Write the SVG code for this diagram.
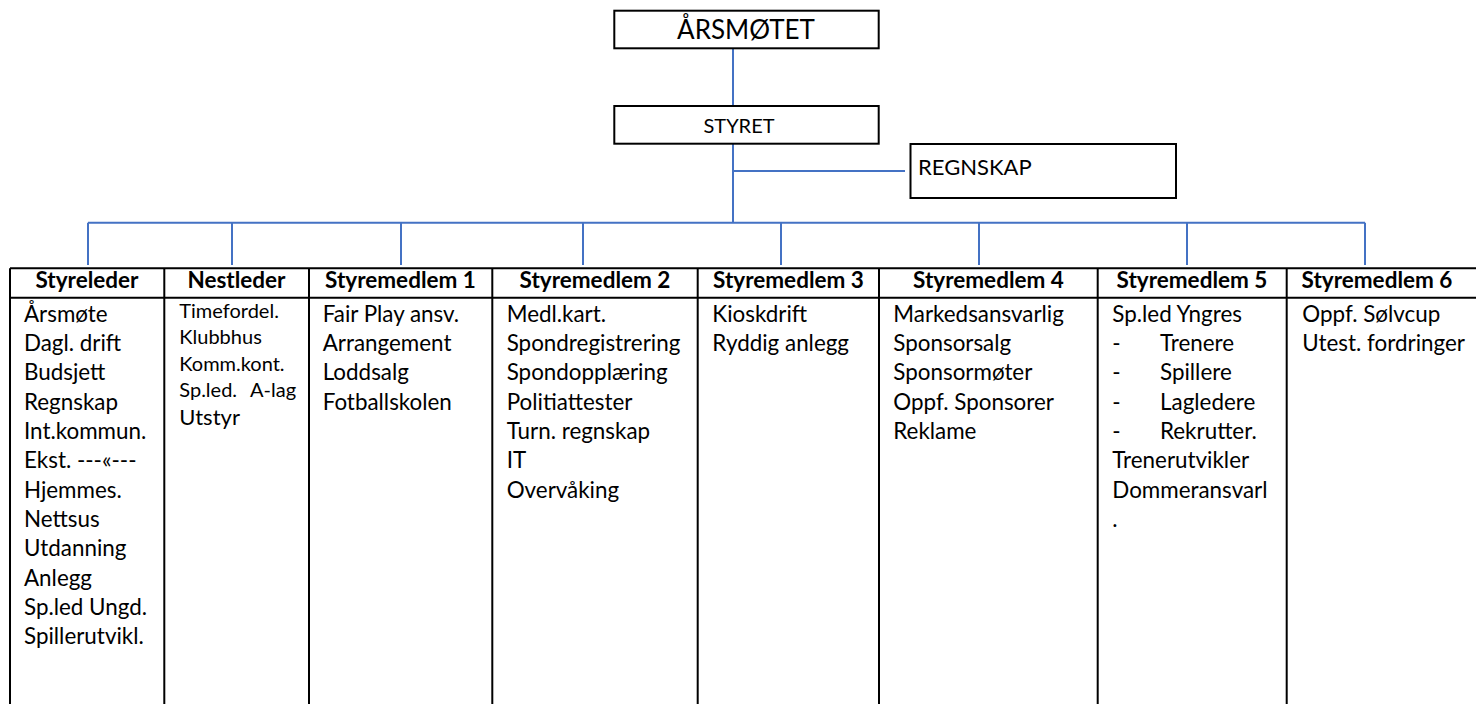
<svg xmlns="http://www.w3.org/2000/svg" width="1476" height="704" viewBox="0 0 1476 704">
<style>
.box{fill:#fff;stroke:#000;stroke-width:2}
.conn{stroke:#4472C4;stroke-width:2;fill:none}
.grid{stroke:#000;stroke-width:2;fill:none}
.t{font-family:Lato,"Open Sans",sans-serif;fill:#000}
.hd{font-size:22.5px;font-weight:bold;text-anchor:middle}
.bd{font-size:22.4px}
.sm{font-size:20px}
</style>
<rect x="0" y="0" width="1476" height="704" fill="#fff"/>
<g id="connectors">
<path class="conn" d="M733 48V106M733 143.7V222.7M733 171H905M88 222.7H1365M88 222.7V265M232 222.7V265M401 222.7V265M583 222.7V265M781 222.7V265M979 222.7V265M1187 222.7V265M1365 222.7V265"/>
</g>
<g id="arsmotet">
<rect class="box" x="614.3" y="10.7" width="264.4" height="37.6"/>
<text class="t" x="746" y="39" text-anchor="middle" font-size="26">ÅRSMØTET</text>
</g>
<g id="styret">
<rect class="box" x="614.3" y="106" width="264.4" height="37.7"/>
<text class="t" x="739" y="133" text-anchor="middle" font-size="20">STYRET</text>
</g>
<g id="regnskap">
<rect class="box" x="910.5" y="144" width="265.5" height="54"/>
<text class="t" x="918" y="175" font-size="22">REGNSKAP</text>
</g>
<g id="table">
<path class="grid" d="M10 268.3H1476M10 297.7H1476M10 268.3V704M164.3 268.3V704M309 268.3V704M492.3 268.3V704M697.7 268.3V704M879 268.3V704M1097.7 268.3V704M1286.7 268.3V704"/>
</g>
<g id="styreleder">
<text class="t hd" x="87" y="288">Styreleder</text>
<text class="t bd" x="24"><tspan x="24" y="321.7">Årsmøte</tspan><tspan x="24" y="351">Dagl. drift</tspan><tspan x="24" y="380.3">Budsjett</tspan><tspan x="24" y="409.6">Regnskap</tspan><tspan x="24" y="439">Int.kommun.</tspan><tspan x="24" y="468.3">Ekst. ---«---</tspan><tspan x="24" y="497.6">Hjemmes.</tspan><tspan x="24" y="527">Nettsus</tspan><tspan x="24" y="556.3">Utdanning</tspan><tspan x="24" y="585.6">Anlegg</tspan><tspan x="24" y="615">Sp.led Ungd.</tspan><tspan x="24" y="644.3">Spillerutvikl.</tspan></text>
</g>
<g id="nestleder">
<text class="t hd" x="236.5" y="288">Nestleder</text>
<text class="t sm"><tspan x="179.3" y="318.3">Timefordel.</tspan><tspan x="179.3" y="344.3">Klubbhus</tspan><tspan x="179.3" y="371">Komm.kont.</tspan><tspan x="179.3" y="397.3">Sp.led.</tspan><tspan x="250" y="397.3">A-lag</tspan></text>
<text class="t" x="179.3" y="425" font-size="22">Utstyr</text>
</g>
<g id="styremedlem1">
<text class="t hd" x="400.5" y="288">Styremedlem 1</text>
<text class="t bd"><tspan x="322.7" y="321.7">Fair Play ansv.</tspan><tspan x="322.7" y="351">Arrangement</tspan><tspan x="322.7" y="380.3">Loddsalg</tspan><tspan x="322.7" y="409.6">Fotballskolen</tspan></text>
</g>
<g id="styremedlem2">
<text class="t hd" x="595" y="288">Styremedlem 2</text>
<text class="t bd"><tspan x="506.7" y="321.7">Medl.kart.</tspan><tspan x="506.7" y="351">Spondregistrering</tspan><tspan x="506.7" y="380.3">Spondopplæring</tspan><tspan x="506.7" y="409.6">Politiattester</tspan><tspan x="506.7" y="439">Turn. regnskap</tspan><tspan x="506.7" y="468.3">IT</tspan><tspan x="506.7" y="497.6">Overvåking</tspan></text>
</g>
<g id="styremedlem3">
<text class="t hd" x="788.5" y="288">Styremedlem 3</text>
<text class="t bd"><tspan x="712.3" y="321.7">Kioskdrift</tspan><tspan x="712.3" y="351">Ryddig anlegg</tspan></text>
</g>
<g id="styremedlem4">
<text class="t hd" x="988.5" y="288">Styremedlem 4</text>
<text class="t bd"><tspan x="893.3" y="321.7">Markedsansvarlig</tspan><tspan x="893.3" y="351">Sponsorsalg</tspan><tspan x="893.3" y="380.3">Sponsormøter</tspan><tspan x="893.3" y="409.6">Oppf. Sponsorer</tspan><tspan x="893.3" y="439">Reklame</tspan></text>
</g>
<g id="styremedlem5">
<text class="t hd" x="1192" y="288">Styremedlem 5</text>
<text class="t bd"><tspan x="1112.3" y="321.7">Sp.led Yngres</tspan><tspan x="1112.3" y="351">-</tspan><tspan x="1160" y="351">Trenere</tspan><tspan x="1112.3" y="380.3">-</tspan><tspan x="1160" y="380.3">Spillere</tspan><tspan x="1112.3" y="409.6">-</tspan><tspan x="1160" y="409.6">Lagledere</tspan><tspan x="1112.3" y="439">-</tspan><tspan x="1160" y="439">Rekrutter.</tspan><tspan x="1112.3" y="468.3">Trenerutvikler</tspan><tspan x="1112.3" y="497.6">Dommeransvarl</tspan><tspan x="1112.3" y="527">.</tspan></text>
</g>
<g id="styremedlem6">
<text class="t hd" x="1377" y="288">Styremedlem 6</text>
<text class="t bd"><tspan x="1302.3" y="321.7">Oppf. Sølvcup</tspan><tspan x="1302.3" y="351">Utest. fordringer</tspan></text>
</g>
</svg>
